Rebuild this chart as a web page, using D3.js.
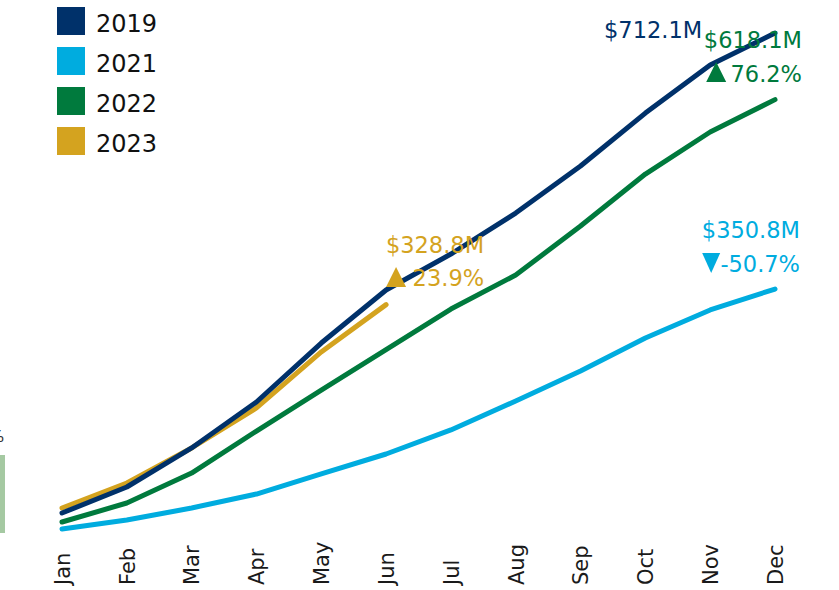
<!DOCTYPE html>
<html lang="en">
<head>
<meta charset="UTF-8">
<title>Cumulative revenue by month</title>
<script src="https://cdn.jsdelivr.net/npm/d3@7"></script>
<style>
  body { margin: 0; background: #fff; }
  svg { font-family: "DejaVu Sans", sans-serif; }
  .line { fill: none; stroke-width: 5px; stroke-linecap: round; stroke-linejoin: round; }
</style>
</head>
<body>
<script>
// data (cumulative, $M)
var months = ["Jan","Feb","Mar","Apr","May","Jun","Jul","Aug","Sep","Oct","Nov","Dec"];
var years = ["2019","2021","2022","2023"];
var colors = ["#00316a","#00acdf","#007a3d","#d4a31f"];
var v2019 = [34.7, 71.4, 126.5, 191.4, 274.6, 349.4, 400.2, 458.0, 524.4, 599.1, 667.0, 712.1];
var v2021 = [12.1, 24.8, 41.8, 61.5, 89.8, 118.0, 151.9, 192.8, 235.2, 281.8, 321.3, 350.8];
var v2022 = [22.0, 48.8, 91.1, 150.4, 208.2, 265.4, 322.6, 370.6, 439.7, 513.1, 572.4, 618.1];
var v2023 = [41.8, 77.1, 126.5, 183.0, 262.0, 328.8];

var width = 839, height = 590;

var svg = d3.select("body").append("svg")
    .attr("width", width)
    .attr("height", height);

var x = d3.scalePoint().domain(months).range([62, 775]);
var y = d3.scaleLinear().domain([0, 700]).range([537.6, 41.6]);

var color = d3.scaleOrdinal().domain(years).range(colors);

// cropped bits at the left edge
svg.append("rect")
    .attr("x", 0).attr("y", 455).attr("width", 5).attr("height", 78)
    .attr("fill", "#a5c9a2");
svg.append("text")
    .attr("x", -11).attr("y", 442)
    .attr("font-size", 16).attr("fill", "#333")
    .text("%");

// x axis labels
var xAxis = svg.append("g")
    .attr("transform", "translate(0,585)")
    .call(d3.axisBottom(x).tickSize(0).tickPadding(0));
xAxis.select(".domain").remove();
xAxis.selectAll("text")
    .attr("font-family", "DejaVu Sans, sans-serif")
    .attr("font-size", 21)
    .attr("fill", "#1a1a1a")
    .attr("y", 0)
    .attr("dy", "0.35em")
    .attr("transform", "rotate(-90)")
    .style("text-anchor", "start");

var line = d3.line()
    .x(function(d, i) { return x(months[i]); })
    .y(function(d) { return y(d); });

var series = [
  { year: "2019", values: v2019 },
  { year: "2021", values: v2021 },
  { year: "2022", values: v2022 },
  { year: "2023", values: v2023 }
];

// draw in this order so 2019 sits above 2023 early on
var order = ["2021", "2022", "2023", "2019"];
order.forEach(function(yr) {
  var s = series.find(function(d) { return d.year === yr; });
  svg.append("path")
      .datum(s.values)
      .attr("class", "line")
      .attr("stroke", color(yr))
      .attr("d", line);
});

// legend
var legend = svg.append("g");
years.forEach(function(yr, i) {
  legend.append("rect")
      .attr("x", 57).attr("y", 7 + i * 40)
      .attr("width", 28).attr("height", 28)
      .attr("fill", color(yr));
  legend.append("text")
      .attr("x", 96).attr("y", 32 + i * 40)
      .attr("font-size", 24)
      .attr("fill", "#111")
      .text(yr);
});

// annotations
function label(txt, xx, yy, c) {
  svg.append("text")
      .attr("x", xx).attr("y", yy)
      .attr("text-anchor", "end")
      .attr("font-size", 22.5)
      .attr("fill", c)
      .text(txt);
}
function tri(cx, cy, up, c) {
  var p = up
    ? [[cx - 10, cy + 10], [cx + 10, cy + 10], [cx, cy - 10]]
    : [[cx - 9, cy - 10], [cx + 9, cy - 10], [cx, cy + 10]];
  svg.append("path")
      .attr("d", d3.line()(p) + "Z")
      .attr("fill", c);
}

var last = months.length - 1;

// 2019
label("$712.1M", x("Nov") - 8, y(v2019[last]) + 5, color("2019"));

// 2022 vs 2021
label("$618.1M", x("Dec") + 27, 48, color("2022"));
tri(x("Nov") + 6, 72, true, color("2022"));
label("76.2%", x("Dec") + 27, 82, color("2022"));

// 2023 vs 2022
var jun = v2023.length - 1;
label("$328.8M", x("Jun") + 98, y(v2023[jun]) - 52, color("2023"));
tri(x("Jun") + 10, 277, true, color("2023"));
label("23.9%", x("Jun") + 98, y(v2023[jun]) - 19, color("2023"));

// 2021 vs 2019
label("$350.8M", x("Dec") + 25, y(v2021[last]) - 51, color("2021"));
tri(x("Nov") + 1, 263, false, color("2021"));
label("-50.7%", x("Dec") + 25, y(v2021[last]) - 17, color("2021"));
</script>
</body>
</html>
